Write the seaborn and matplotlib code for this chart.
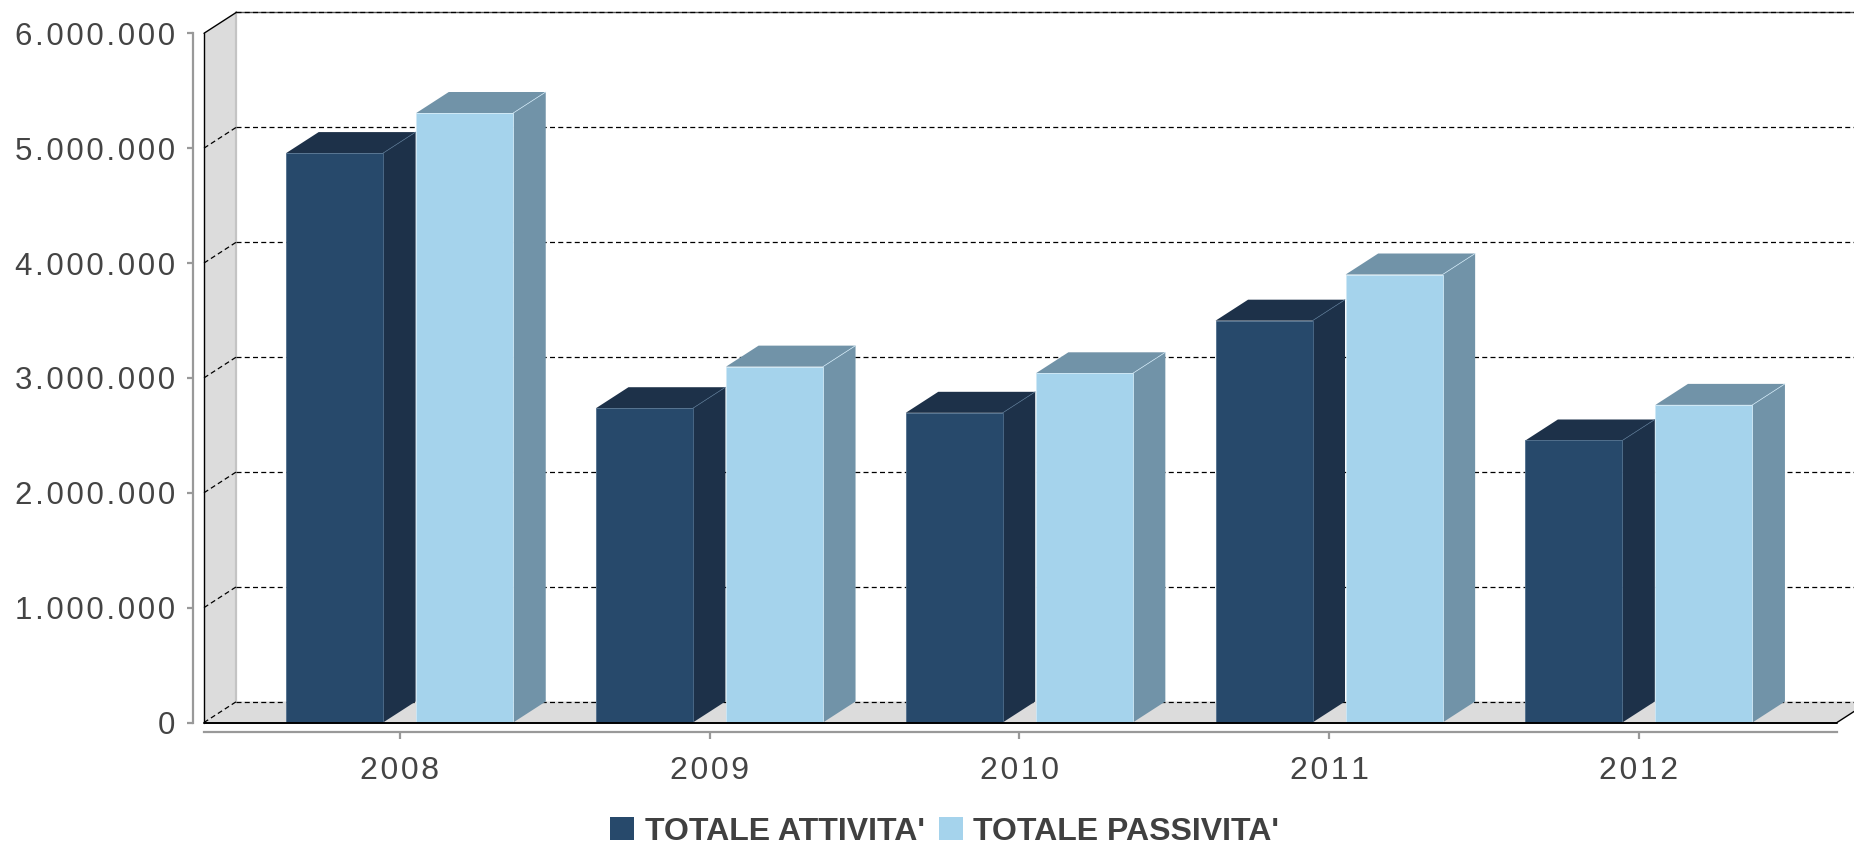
import matplotlib
matplotlib.use("Agg")
import matplotlib.pyplot as plt
import numpy as np
import pandas as pd
import seaborn as sns
from matplotlib.ticker import FuncFormatter, FixedLocator

# ---------------- data ----------------
anni = ["2008", "2009", "2010", "2011", "2012"]
attivita = [4957000, 2736000, 2696000, 3498000, 2455000]
passivita = [5306000, 3098000, 3040000, 3900000, 2765000]
serie = ["TOTALE ATTIVITA'", "TOTALE PASSIVITA'"]
y_ticks = [0, 1000000, 2000000, 3000000, 4000000, 5000000, 6000000]

# ---------------- styles ----------------
front_cols = ["#27496b", "#a5d3ec"]
side_cols = ["#1d3149", "#7193a8"]
edge_cols = ["#4f6e8c", "#cfe8f6"]
wall_col = "#dcdcdc"
text_col = "#444444"
axis_col = "#999999"

df = pd.DataFrame({
    "Anno": anni * 2,
    "Valore": attivita + passivita,
    "Serie": [serie[0]] * len(anni) + [serie[1]] * len(anni),
})

sns.set_theme(style="white")
plt.rcParams["font.family"] = ["Liberation Sans", "DejaVu Sans"]

W, H = 1854, 846
fig = plt.figure(figsize=(W / 100, H / 100), dpi=100)
fig.patch.set_facecolor("white")

# layout (pixels)
px_left = 204.0      # front-left edge of plot
px_zero = 722.5      # y pixel (from top) of value 0
px_cat0 = 399.7      # x pixel of first category
px_unit = 309.8      # pixels per category
px_per_val = 114.87 / 1e6
px_right_front = 1837.0

x0 = (px_left - px_cat0) / px_unit
xr = (W - px_cat0) / px_unit
x1 = (px_right_front - px_cat0) / px_unit
ytop = px_zero / px_per_val

ax = fig.add_axes([px_left / W, (H - px_zero) / H, (W - px_left) / W, px_zero / H])
ax.patch.set_alpha(0)

# depth of the pseudo-3D effect (data units)
dx = 32.5 / px_unit
dy = 21.0 / px_per_val

sns.barplot(data=df, x="Anno", y="Valore", hue="Serie", order=anni,
            hue_order=serie, palette=front_cols, saturation=1, width=0.84,
            ax=ax, zorder=3)

handles = ax.get_legend().legend_handles
ax.get_legend().remove()

bar_w = 0.313
for i, cont in enumerate(ax.containers):
    for bar in cont:
        c = bar.get_x() + bar.get_width() / 2
        v = bar.get_height()
        bar.set_x(c - bar_w / 2)
        bar.set_width(bar_w)
        bar.set_edgecolor(edge_cols[i])
        bar.set_linewidth(0.6)
        bar.set_zorder(3)
        l, r = c - bar_w / 2, c + bar_w / 2
        # side face
        ax.fill([r, r + dx, r + dx, r], [0, dy, v + dy, v],
                color=side_cols[i], zorder=2.9, lw=0, clip_on=False)
        # top face
        ax.fill([l, r, r + dx, l + dx], [v, v, v + dy, v + dy],
                color=side_cols[i], zorder=2.9, lw=0, clip_on=False)
        ax.plot([r, r + dx], [v, v + dy], color=edge_cols[i], lw=0.5,
                zorder=3.1, clip_on=False)

# walls
ymax = y_ticks[-1]
ax.fill([x0, x0, x0 + dx, x0 + dx], [0, ymax, ymax + dy, dy],
        color=wall_col, lw=0, zorder=0.5, clip_on=False)
ax.fill([x0, x1, x1 + dx, x0 + dx], [0, 0, dy, dy],
        color=wall_col, lw=0, zorder=0.5, clip_on=False)
ax.plot([x0 + dx, x0 + dx], [dy, ymax + dy], color="#c4c4c4", lw=1.6,
        zorder=0.6, clip_on=False)

dash = (0, (4, 2.6))
for v in y_ticks:
    if v == ymax:
        ax.plot([x0 + dx, xr], [v + dy, v + dy], color="#555555", lw=1.0,
                zorder=0.8, clip_on=False)
        ax.plot([x0, x0 + dx], [v, v + dy], color="black", lw=1.0,
                zorder=0.8, clip_on=False)
    else:
        ax.plot([x0, x0 + dx], [v, v + dy], color="black", lw=0.9,
                ls=dash, zorder=0.8, clip_on=False)
    ax.plot([x0 + dx, xr], [v + dy, v + dy], color="black", lw=0.9,
            ls=dash, zorder=0.8, clip_on=False)

# front edges
ax.plot([x0, x0], [0, ymax], color="black", lw=1.0, zorder=0.9, clip_on=False)
ax.plot([x0, x1], [0, 0], color="black", lw=1.4, zorder=4, clip_on=False)
ax.plot([x1, x1 + dx], [0, dy], color="black", lw=1.0, zorder=4, clip_on=False)

# axes, ticks
ax.set_xlim(x0, xr)
ax.set_ylim(0, ytop)
for s in ["top", "right"]:
    ax.spines[s].set_visible(False)
ax.spines["left"].set_position(("outward", 11 * 0.72))
ax.spines["left"].set_bounds(0, ymax)
ax.spines["bottom"].set_position(("outward", 9.5 * 0.72))
ax.spines["bottom"].set_bounds(x0, x1)
for s in ["left", "bottom"]:
    ax.spines[s].set_color(axis_col)
    ax.spines[s].set_linewidth(1.6)

SP = "\u200a"
ax.yaxis.set_major_locator(FixedLocator(y_ticks))
ax.yaxis.set_major_formatter(FuncFormatter(
    lambda v, p: SP.join(f"{int(round(v)):,}".replace(",", "."))))
ax.set_xticks(range(len(anni)), labels=[SP.join(a) for a in anni])
ax.set_xlabel("")
ax.set_ylabel("")
ax.tick_params(axis="y", left=True, length=6 * 0.72, width=1.6, color=axis_col,
               labelsize=22.5, labelcolor=text_col, pad=8.4)
ax.tick_params(axis="x", bottom=True, length=7 * 0.72, width=1.6, color=axis_col,
               labelsize=23, labelcolor=text_col, pad=12)
ax.grid(False)

leg = fig.legend(handles, serie, loc="center", bbox_to_anchor=(0.5096, 0.0169),
                 ncol=2, frameon=False, prop={"weight": "bold", "size": 23},
                 handlelength=0.75, handleheight=0.69, handletextpad=0.33,
                 columnspacing=0.45, borderpad=0, borderaxespad=0)
for t in leg.get_texts():
    t.set_color("#404040")
for h in leg.legend_handles:
    h.set_edgecolor("none")

fig.savefig("out.png", dpi=100)
